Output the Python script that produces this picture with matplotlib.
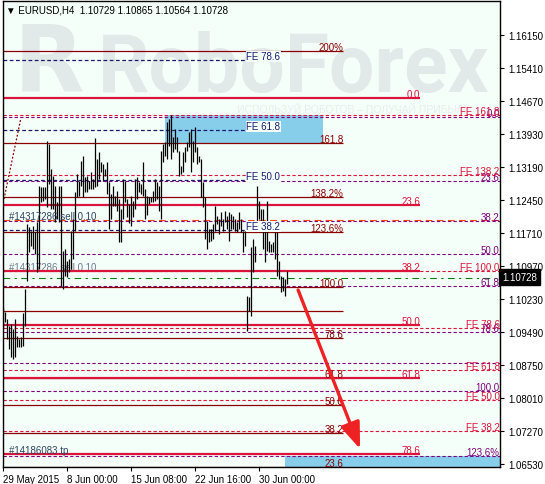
import numpy as np
import matplotlib.pyplot as plt
import matplotlib.transforms as mtransforms

plt.rcParams['font.family'] = ['Liberation Sans', 'DejaVu Sans']

# EURUSD H4 bars (high / low)
highs = [1.1005, 1.0994, 1.0978, 1.0962, 1.0967, 1.0956, 1.0978, 1.0940, 1.0933, 1.0938,
         1.0992, 1.1046, 1.1191, 1.1184, 1.1175, 1.1187, 1.1173, 1.1196, 1.1276, 1.1274,
         1.1274, 1.1274, 1.1377, 1.1371, 1.1315, 1.1299, 1.1276, 1.1241, 1.1276, 1.1276,
         1.1131, 1.1135, 1.1108, 1.1113, 1.1175, 1.1202, 1.1263, 1.1303, 1.1288, 1.1332,
         1.1344, 1.1297, 1.1299, 1.1288, 1.1308, 1.1292, 1.1384, 1.1337, 1.1353, 1.1330,
         1.1326, 1.1315, 1.1330, 1.1285, 1.1259, 1.1276, 1.1254, 1.1265, 1.1247, 1.1225,
         1.1292, 1.1288, 1.1247, 1.1236, 1.1254, 1.1243, 1.1292, 1.1297, 1.1285, 1.1281,
         1.1330, 1.1270, 1.1254, 1.1252, 1.1252, 1.1265, 1.1292, 1.1285, 1.1276, 1.1355,
         1.1371, 1.1375, 1.1420, 1.1427, 1.1436, 1.1386, 1.1404, 1.1386, 1.1355, 1.1321,
         1.1353, 1.1364, 1.1375, 1.1398, 1.1404, 1.1377, 1.1409, 1.1364, 1.1344, 1.1337,
         1.1285, 1.1252, 1.1198, 1.1180, 1.1180, 1.1191, 1.1232, 1.1209, 1.1202, 1.1218,
         1.1202, 1.1220, 1.1209, 1.1218, 1.1214, 1.1209, 1.1202, 1.1196, 1.1218, 1.1202,
         1.1175, 1.1175, 1.1030, 1.1028, 1.1140, 1.1158, 1.1142, 1.1276, 1.1243, 1.1225,
         1.1225, 1.1184, 1.1243, 1.1153, 1.1147, 1.1151, 1.1173, 1.1173, 1.1108, 1.1075,
         1.1072, 1.1068, 1.10865]
lows = [1.0956, 1.0972, 1.0933, 1.0911, 1.0893, 1.0888, 1.0893, 1.0915, 1.0915, 1.0915,
        1.0918, 1.0962, 1.1063, 1.1128, 1.1142, 1.1135, 1.1124, 1.1084, 1.1090, 1.1240,
        1.1243, 1.1247, 1.1229, 1.1281, 1.1225, 1.1225, 1.1196, 1.1202, 1.1196, 1.1052,
        1.1045, 1.1075, 1.1072, 1.1084, 1.1090, 1.1113, 1.1176, 1.1252, 1.1254, 1.1276,
        1.1252, 1.1263, 1.1263, 1.1270, 1.1270, 1.1270, 1.1274, 1.1276, 1.1292, 1.1308,
        1.1288, 1.1299, 1.1259, 1.1180, 1.1202, 1.1232, 1.1232, 1.1220, 1.1151, 1.1151,
        1.1202, 1.1241, 1.1207, 1.1193, 1.1187, 1.1207, 1.1225, 1.1247, 1.1263, 1.1259,
        1.1254, 1.1202, 1.1211, 1.1236, 1.1241, 1.1241, 1.1243, 1.1247, 1.1220, 1.1202,
        1.1330, 1.1344, 1.1337, 1.1366, 1.1337, 1.1353, 1.1359, 1.1353, 1.1299, 1.1303,
        1.1308, 1.1330, 1.1355, 1.1364, 1.1308, 1.1330, 1.1353, 1.1326, 1.1330, 1.1252,
        1.1229, 1.1157, 1.1135, 1.1151, 1.1153, 1.1157, 1.1176, 1.1191, 1.1169, 1.1187,
        1.1176, 1.1196, 1.1180, 1.1153, 1.1180, 1.1180, 1.1176, 1.1173, 1.1180, 1.1173,
        1.1128, 1.1142, 1.0951, 1.0996, 1.0985, 1.1084, 1.1106, 1.1198, 1.1202, 1.1198,
        1.1135, 1.1106, 1.1131, 1.1128, 1.1128, 1.1128, 1.1113, 1.1075, 1.1068, 1.1039,
        1.1041, 1.1030, 1.10564]

x_tick_bars = [0, 32, 64, 96, 128]
x_tick_labels = ['29 May 2015', '8 Jun 00:00', '15 Jun 08:00', '22 Jun 16:00', '30 Jun 00:00']
y_ticks = [1.16150, 1.15410, 1.14670, 1.13930, 1.13190, 1.12450, 1.11710,
           1.10970, 1.10230, 1.09490, 1.08750, 1.08010, 1.07270, 1.06530]
last_price = 1.10728
header = 'EURUSD,H4  1.10729 1.10865 1.10564 1.10728'

# fibo objects
dark_levels = [1.15785, 1.13739, 1.12511, 1.11726, 1.10499, 1.09961, 1.09349, 1.08465, 1.07846, 1.07225, 1.06466]
dark_labels = ['200%', '161.8', '138.2%', '123.6%', '100.0', '', '78.6', '61.8', '50.0', '38.2', '23.6']
crimson_levels = [1.14744, 1.12345, 1.10851, 1.09654, 1.08465, 1.06754]
crimson_labels = ['0.0', '23.6', '38.2', '50.0', '61.8', '78.6']
fe_levels = [1.14363, 1.13011, 1.10851, 1.09587, 1.08631, 1.07965, 1.07263]
fe_labels = ['FE 161.8', 'FE 138.2', 'FE 100.0', 'FE 78.6', 'FE 61.8', 'FE 50.0', 'FE 38.2']
purple_levels = [1.14311, 1.12876, 1.11979, 1.11232, 1.10515, 1.09483, 1.08795, 1.08167, 1.06716]
purple_labels = ['0.0', '23.6', '38.2', '50.0', '61.8', '78.6', '', '100.0', '123.6%']
navy_levels = [1.15583, 1.14013, 1.12890, 1.11771]
navy_labels = ['FE 78.6', 'FE 61.8', 'FE 50.0', 'FE 38.2']
sell_level = 1.12008
open_level = 1.10700
rect1 = (80.9, 159.9, 1.13739, 1.14356)
rect2 = (140.9, 248.6, 1.06460, 1.06710)
trend_line = ([0.35, 8.7], [1.12472, 1.14266])
arrow_from = (147.4, 1.10432)
arrow_to = (178.4, 1.06867)

bg = '#F5FFFA'
dark_red = '#8B0000'
crimson = '#DC143C'
purple = '#800080'
navy = '#1A1A70'

fig = plt.figure(figsize=(5.45, 4.85), dpi=100, facecolor='white')
ax = fig.add_axes([3 / 545, 17 / 485, 497 / 545, 466 / 485])
ax.set_facecolor(bg)
ax.set_xlim(-0.15, 248.35)
ax.set_ylim(1.064628, 1.169124)

# watermark
wm = '#E2EAE9'
ax.text(0.022, 0.807, 'R', transform=ax.transAxes, fontsize=66, fontweight='black',
        family='DejaVu Sans', color=wm, zorder=0.5)
ax.text(0.19, 0.807, 'RoboForex', transform=ax.transAxes, fontsize=58, fontweight='bold',
        family='Roboto', color=wm, zorder=0.5)
ax.text(0.471, 0.768, 'ИСПОЛЬЗУЙ РОБОТОВ – ПОЛУЧАЙ ПРИБЫЛЬ', transform=ax.transAxes,
        fontsize=7.5, color='#E6EEEE', va='center', zorder=0.5)

# rectangles
for x0, x1, p0, p1 in [rect1, rect2]:
    ax.fill_between([x0, x1], p0, p1, color='#87CEEB', lw=0, zorder=1)

full = 248.35
up = mtransforms.offset_copy(ax.transData, fig=fig, x=0, y=1.0, units='dots')

def levels(prices, labels, x_end, color, lw, ls, lab_x=None, lab_color=None, box=False):
    ax.hlines(prices, -0.15, x_end, colors=color, linewidth=lw, linestyles=ls, zorder=2)
    for p, t in zip(prices, labels):
        if not t:
            continue
        kw = {}
        if box:
            kw['bbox'] = dict(boxstyle='square,pad=0.05', fc=bg, ec='none')
        ax.text(lab_x if lab_x is not None else x_end, p, t, transform=up, ha='right',
                va='baseline', fontsize=7, color=lab_color or color, zorder=4, **kw)

levels(purple_levels, purple_labels, full, purple, 0.8, (0, (3, 2)), lab_x=248.2)
levels(fe_levels, fe_labels, full, crimson, 0.8, (0, (3, 2)), lab_x=248.2)
levels(navy_levels, navy_labels, 138.4, navy, 0.9, (0, (3, 2)), box=True)
levels(dark_levels, dark_labels, 169.9, dark_red, 0.9, '-')
levels(crimson_levels, crimson_labels, 208.4, crimson, 1.6, '-')

# order lines
ax.hlines(sell_level, -0.15, full, colors='orangered', linewidth=0.8, linestyles=(0, (6, 4)), zorder=2)
ax.hlines(open_level, -0.15, full, colors='green', linewidth=0.8, linestyles=(0, (6, 4, 2, 4)), zorder=2)
ax.text(3, sell_level, '#14317286 sell 0.10', transform=up, fontsize=7, color='#2F4560', zorder=4)
ax.text(3, 1.10851, '#14317286 sell 0.10', transform=up, fontsize=7, color='#6A7A90', zorder=1.5)
ax.text(3, 1.06754, '#14186083 tp', transform=up, fontsize=7, color='#2F4560', zorder=4)

# trend line
ax.plot(trend_line[0], trend_line[1], color=dark_red, lw=0.9, ls=(0, (1.5, 1.5)), zorder=2)

# price bars
x = np.arange(len(highs))
ax.vlines(x, lows, highs, color='black', linewidth=0.9, zorder=3)

# arrow
ax.annotate('', xy=arrow_to, xytext=arrow_from, zorder=5,
            arrowprops=dict(arrowstyle='-|>,head_length=1.6,head_width=0.6',
                            color='#EE2222', lw=2.4, shrinkA=0, shrinkB=0))

# header
ax.text(0.006, 0.982, '▼ ' + header, transform=ax.transAxes, fontsize=7, va='center', zorder=6)

# axes
ax.yaxis.tick_right()
ax.set_yticks(y_ticks)
ax.set_yticklabels(['%.5f' % v for v in y_ticks])
ax.tick_params(axis='y', direction='out', length=3, width=0.8, labelsize=7, pad=3)
ax.set_xticks(x_tick_bars)
ax.set_xticklabels(x_tick_labels, ha='left')
ax.tick_params(axis='x', direction='out', length=3, width=0.8, labelsize=7, pad=2)
for s in ax.spines.values():
    s.set_color('black')
    s.set_linewidth(1)

ax.text(1.004, last_price, '1.10728', transform=mtransforms.blended_transform_factory(ax.transAxes, ax.transData),
        ha='left', va='center', color='white', fontsize=7, clip_on=False, zorder=6,
        bbox=dict(boxstyle='square,pad=0.3', fc='black', ec='black'))

fig.savefig('out.png', dpi=100, facecolor='white')
